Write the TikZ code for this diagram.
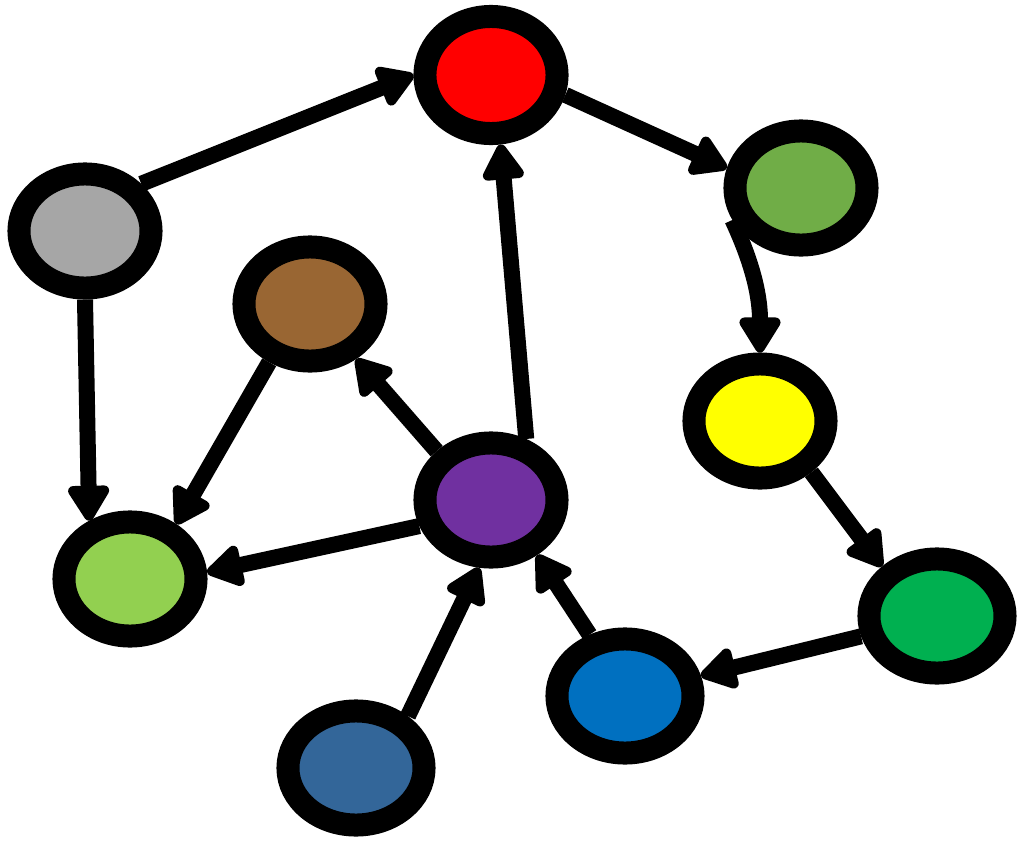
\documentclass[tikz,border=0pt]{standalone}
\usetikzlibrary{arrows.meta,shapes.geometric}
\definecolor{cRed}{HTML}{FF0000}
\definecolor{cGray}{HTML}{A6A6A6}
\definecolor{cBrown}{HTML}{996633}
\definecolor{cOlive}{HTML}{70AD47}
\definecolor{cYellow}{HTML}{FFFF00}
\definecolor{cPurple}{HTML}{7030A0}
\definecolor{cLime}{HTML}{92D050}
\definecolor{cGreen}{HTML}{00B050}
\definecolor{cBlue}{HTML}{0070C0}
\definecolor{cSteel}{HTML}{336699}
\begin{document}
\begin{tikzpicture}[x=0.01cm,y=-0.01cm,
  gnode/.style={ellipse,draw=black,line width=0.23cm,minimum width=1.32cm,minimum height=1.14cm,inner sep=0pt},
  link/.style={line width=0.16cm,-{Triangle[length=0.4cm,width=0.46cm,round]}}]
\useasboundingbox[fill=white] (0,0) rectangle (1023,842);
\node[gnode,fill=cRed,minimum height=1.17cm] (red) at (491,75)  {};
\node[gnode,fill=cGray]   (gray)   at (85,231)  {};
\node[gnode,fill=cBrown]  (brown)  at (310,304) {};
\node[gnode,fill=cOlive]  (olive)  at (801,188) {};
\node[gnode,fill=cYellow] (yellow) at (760,421) {};
\node[gnode,fill=cPurple] (purple) at (491,500) {};
\node[gnode,fill=cLime]   (lime)   at (130,579) {};
\node[gnode,fill=cGreen,minimum width=1.36cm]  (green)  at (937,616) {};
\node[gnode,fill=cBlue,minimum width=1.36cm]   (blue)   at (625,696) {};
\node[gnode,fill=cSteel,minimum width=1.36cm]  (steel)  at (356,768) {};
\draw[link] (gray.40) -- (red.180);
\draw[link] (red.-15) -- (olive.165);
\draw[link] (purple.60) -- (red.-82);
\draw[link] (olive.205) to[out=-65,in=90] (yellow.north);
\draw[link] (gray.south) -- (lime.125);
\draw[link] (brown.235) -- (lime.50);
\draw[link] (purple.138) -- (brown.-50);
\draw[link] (purple.200) -- (lime.5);
\draw[link] (steel.45) -- (purple.-100);
\draw[link] (blue.120) -- (purple.-50);
\draw[link] (yellow.-45) -- (green.138);
\draw[link] (green.195) -- (blue.15);
\end{tikzpicture}
\end{document}
